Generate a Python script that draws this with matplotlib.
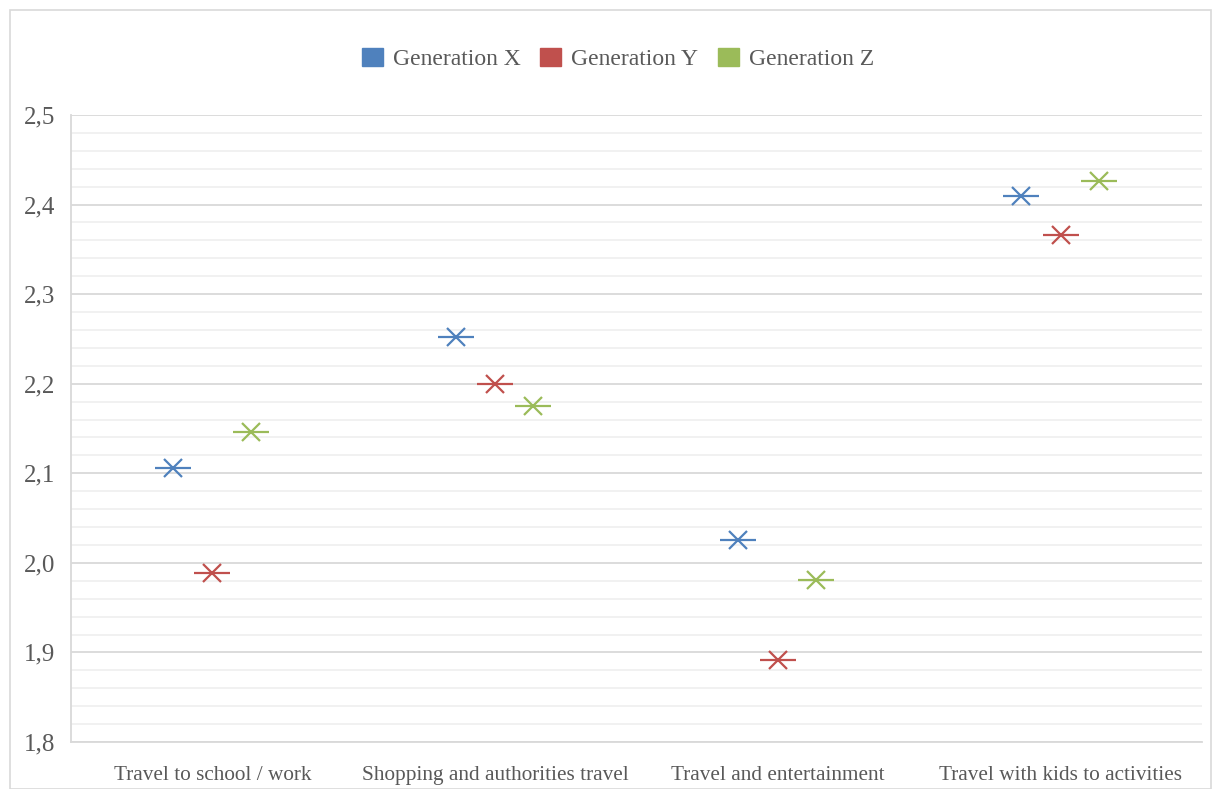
import matplotlib.pyplot as plt
from matplotlib.patches import Rectangle
from matplotlib.ticker import MultipleLocator, FuncFormatter
import numpy as np

categories = ["Travel to school / work", "Shopping and authorities travel",
              "Travel and entertainment", "Travel with kids to activities"]
series = ["Generation X", "Generation Y", "Generation Z"]
gen_x = [2.106, 2.252, 2.026, 2.410]
gen_y = [1.989, 2.200, 1.891, 2.366]
gen_z = [2.146, 2.175, 1.981, 2.426]
colors = ["#4F81BD", "#C0504D", "#9BBB59"]

plt.rcParams['font.family'] = ['Liberation Serif', 'DejaVu Serif']
txt = "#595959"

fig = plt.figure(figsize=(12.12, 7.89), dpi=100)
W, H = 1212, 789
ax = fig.add_axes([71 / W, (H - 742) / H, (1202 - 71) / W, (742 - 115) / H])

x = np.arange(len(categories))
offsets = [-0.14, 0.0, 0.135]
for vals, col, off in zip([gen_x, gen_y, gen_z], colors, offsets):
    ax.plot(x + off, vals, linestyle='none', marker='_', markersize=26,
            markeredgewidth=1.6, color=col)
    ax.plot(x + off, vals, linestyle='none', marker='x', markersize=13,
            markeredgewidth=1.6, color=col)

ax.set_xlim(-0.5, len(categories) - 0.5)
ax.set_ylim(1.8, 2.5)
ax.yaxis.set_major_locator(MultipleLocator(0.1))
ax.yaxis.set_minor_locator(MultipleLocator(0.02))
ax.yaxis.set_major_formatter(FuncFormatter(lambda v, p: f"{v:.1f}".replace('.', ',')))
ax.grid(axis='y', which='major', color='#D9D9D9', linewidth=1.3)
ax.grid(axis='y', which='minor', color='#F0F0F0', linewidth=1.3)
ax.set_axisbelow(True)
ax.set_xticks(x)
ax.set_xticklabels(categories)
ax.tick_params(axis='both', which='both', length=0, colors=txt)
ax.tick_params(axis='y', pad=11.5, labelsize=18)
ax.tick_params(axis='x', pad=17, labelsize=15.3)
for s in ['top', 'right']:
    ax.spines[s].set_visible(False)
for s in ['left', 'bottom']:
    ax.spines[s].set_color('#D9D9D9')
    ax.spines[s].set_linewidth(1.3)

handles = [Rectangle((0, 0), 1, 1, facecolor=c, edgecolor=c) for c in colors]
fig.legend(handles, series, loc='center', bbox_to_anchor=(0.5 + 12 / W, (H - 59) / H),
           ncol=3, frameon=False, fontsize=17, handlelength=0.89, handleheight=0.8,
           handletextpad=0.42, columnspacing=0.85, labelcolor=txt)

fig.patches.append(Rectangle((10 / W, 0), (W - 11) / W, (H - 10) / H,
                             transform=fig.transFigure, fill=False,
                             edgecolor='#D9D9D9', linewidth=1.2))

fig.savefig("out.png", dpi=100)
